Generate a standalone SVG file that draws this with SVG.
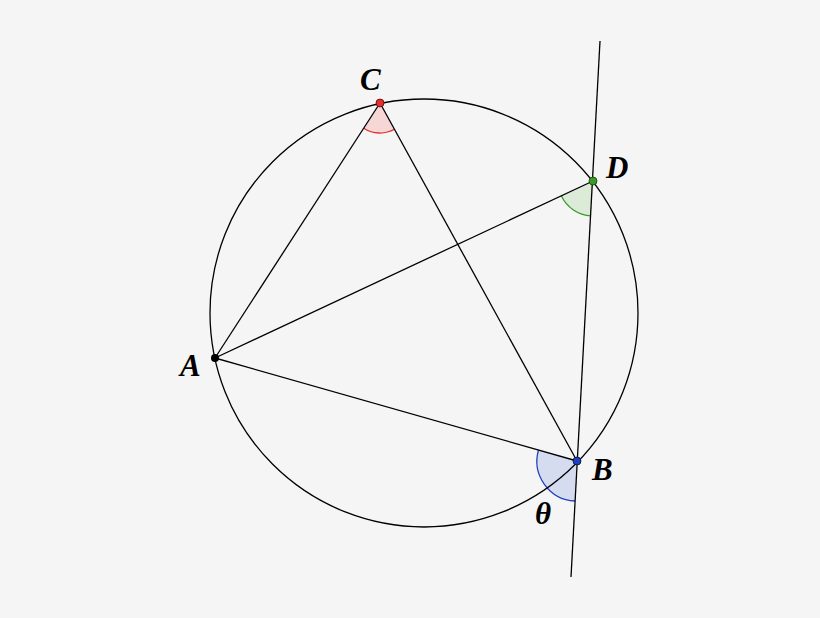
<svg xmlns="http://www.w3.org/2000/svg" width="820" height="618" viewBox="0 0 820 618">
<style>
.l{stroke:#000;stroke-width:1.3;fill:none}
.t{font-family:"Liberation Serif",serif;font-style:italic;font-weight:bold;font-size:31px;fill:#000}
</style>
<rect width="820" height="618" fill="#f5f5f5"/>
<g id="angles">
<path d="M380,103 L363.7,128.2 A30,30 0 0 0 394.5,129.3 Z" fill="#f7d6d6" stroke="none"/>
<path d="M363.7,128.2 A30,30 0 0 0 394.5,129.3" fill="none" stroke="#e03030" stroke-width="1.3"/>
<path d="M593,181 L561.3,195.8 A35,35 0 0 0 591,215.9 Z" fill="#dcebd8" stroke="none"/>
<path d="M561.3,195.8 A35,35 0 0 0 591,215.9" fill="none" stroke="#3a9a2a" stroke-width="1.3"/>
<path d="M577,461 L538.5,450 A40,40 0 0 0 574.9,501 Z" fill="#d6dcf0" stroke="none"/>
<path d="M538.5,450 A40,40 0 0 0 574.9,501" fill="none" stroke="#2040c0" stroke-width="1.3"/>
</g>
<g id="connectors">
<circle class="l" cx="424" cy="313" r="214"/>
<line class="l" x1="600" y1="41" x2="571" y2="577"/>
<line class="l" x1="215" y1="358" x2="380" y2="103"/>
<line class="l" x1="380" y1="103" x2="577" y2="461"/>
<line class="l" x1="215" y1="358" x2="593" y2="181"/>
<line class="l" x1="215" y1="358" x2="577" y2="461"/>
</g>
<g id="A"><circle cx="215" cy="358" r="4" fill="#000"/><text class="t" x="180" y="376">A</text></g>
<g id="C"><circle cx="380" cy="103" r="4" fill="#e03030" stroke="#600" stroke-width="0.8"/><text class="t" x="360" y="90">C</text></g>
<g id="D"><circle cx="593" cy="181" r="4" fill="#3a9a2a" stroke="#140" stroke-width="0.8"/><text class="t" x="606" y="178">D</text></g>
<g id="B"><circle cx="577" cy="461" r="4" fill="#2040c0" stroke="#012" stroke-width="0.8"/><text class="t" x="592" y="480">B</text></g>
<g id="theta"><text class="t" x="535" y="524">θ</text></g>
</svg>
